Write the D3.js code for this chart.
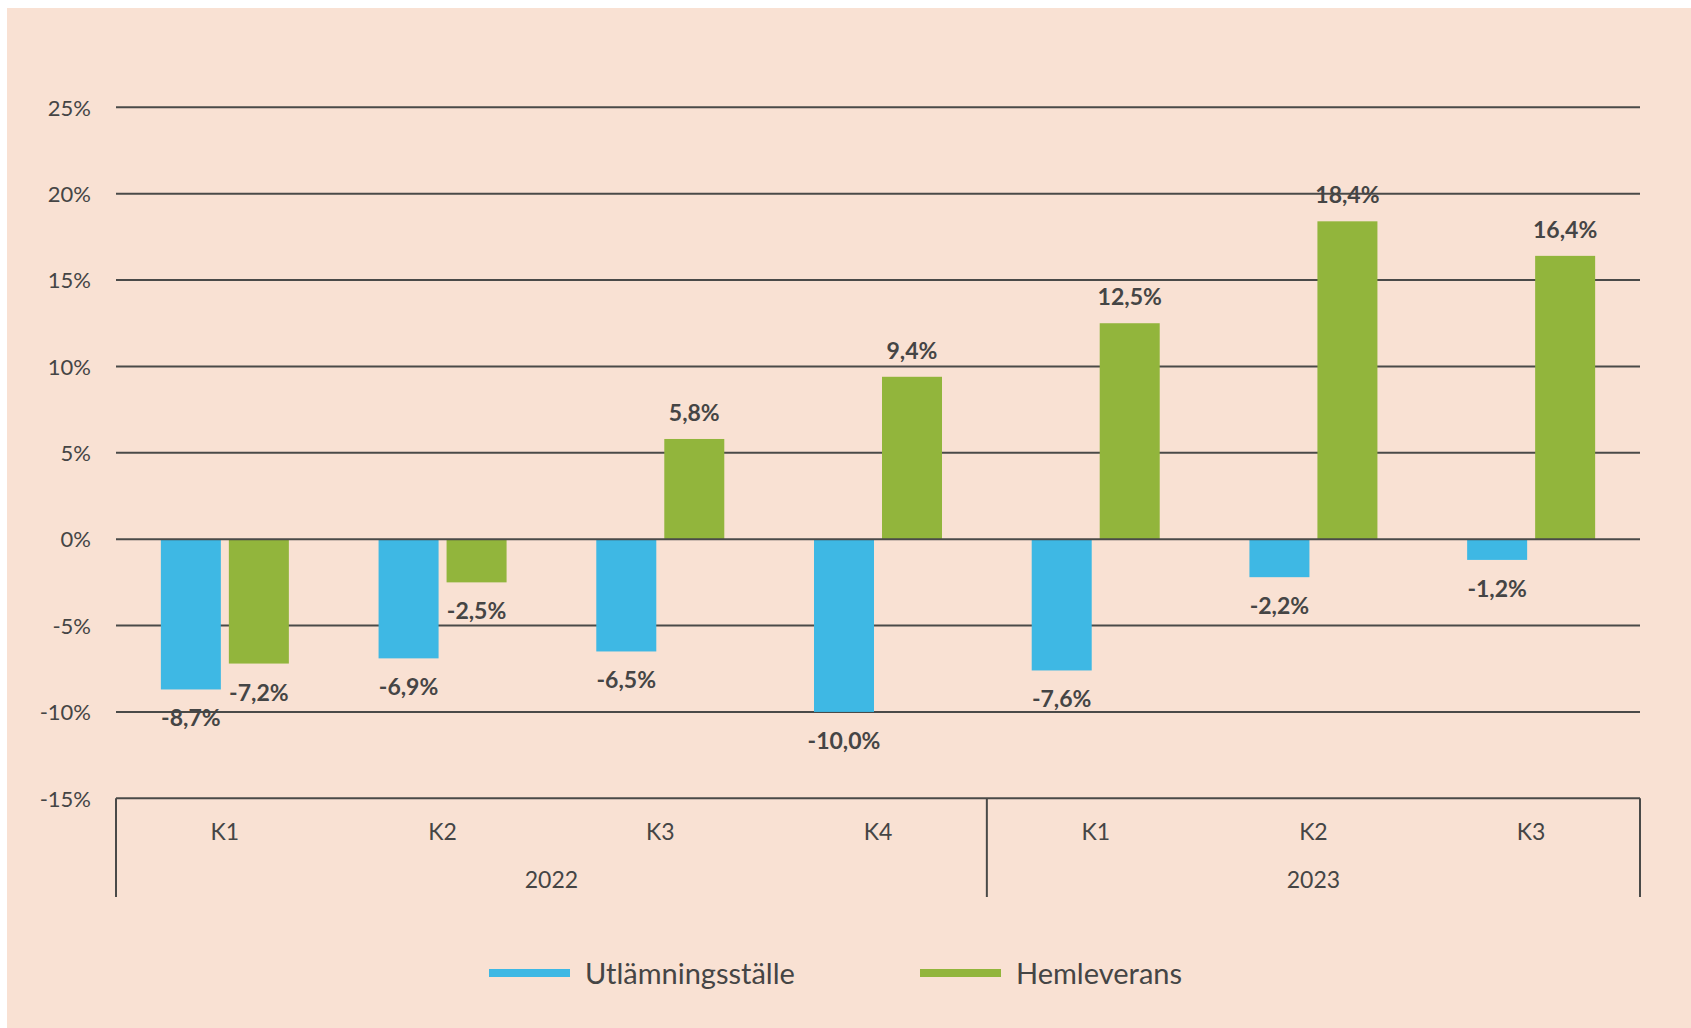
<!DOCTYPE html>
<html>
<head>
<meta charset="utf-8">
<script src="https://cdn.jsdelivr.net/npm/d3@7"></script>
<style>
  html, body { margin: 0; padding: 0; background: #ffffff; }
  svg { display: block; }
  text { font-family: Lato, "Open Sans", sans-serif; fill: #454545; }
</style>
</head>
<body>
<svg id="chart" width="1691" height="1028"></svg>
<script>
// ---- data ----
const quarters = ["K1", "K2", "K3", "K4", "K1", "K2", "K3"];
const years = ["2022", "2023"];
const yearOfQuarter = [0, 0, 0, 0, 1, 1, 1];
const seriesNames = ["Utlämningsställe", "Hemleverans"];
const utlamning = [-8.7, -6.9, -6.5, -10.0, -7.6, -2.2, -1.2];
const hemleverans = [-7.2, -2.5, 5.8, 9.4, 12.5, 18.4, 16.4];
const yTicks = [-15, -10, -5, 0, 5, 10, 15, 20, 25];
const colors = ["#3EB8E4", "#92B53C"];

// ---- setup ----
const svg = d3.select("#chart");
const W = 1691, H = 1028;
const mLeft = 116, mRight = 1640, mTop = 107.3, mBottom = 798.3;

svg.append("rect").attr("x", 7).attr("y", 8).attr("width", W - 7).attr("height", H - 8).attr("fill", "#F9E1D3");

const idx = quarters.map((d, i) => i);
const x0 = d3.scaleBand().domain(idx).range([mLeft, mRight]).padding(0);
const x1 = d3.scaleBand().domain([0, 1]).range([0, 128]).paddingInner(8 / 68).paddingOuter(0);
const off = (x0.bandwidth() - 128) / 2;
const y = d3.scaleLinear().domain([-15, 25]).range([mBottom, mTop]);

const fmt = v => (v < 0 ? "-" : "") + d3.format(".1f")(Math.abs(v)).replace(".", ",") + "%";

// gridlines
svg.append("g").selectAll("line").data(yTicks.filter(t => t !== -15 && t !== 0)).join("line")
  .attr("x1", mLeft).attr("x2", mRight)
  .attr("y1", d => y(d)).attr("y2", d => y(d))
  .attr("stroke", "#4a4a48").attr("stroke-width", 2);

// y tick labels via axis
const yAxis = svg.append("g").attr("transform", `translate(${mLeft - 25},0)`)
  .call(d3.axisLeft(y).tickValues(yTicks).tickSize(0).tickPadding(0).tickFormat(d => d + "%"));
yAxis.select(".domain").remove();
yAxis.selectAll("text").attr("font-size", 22).attr("font-family", "Lato, sans-serif").attr("fill", "#454545").attr("dy", "0.35em");

// bars
const series = [utlamning, hemleverans];
const bars = svg.append("g");
series.forEach((vals, s) => {
  bars.selectAll(null).data(vals.map((v, i) => ({ v, i }))).join("rect")
    .attr("x", d => x0(d.i) + off + x1(s))
    .attr("width", x1.bandwidth())
    .attr("y", d => y(Math.max(0, d.v)))
    .attr("height", d => Math.abs(y(d.v) - y(0)))
    .attr("fill", colors[s]);
});

// zero line on top
svg.append("line").attr("x1", mLeft).attr("x2", mRight).attr("y1", y(0)).attr("y2", y(0))
  .attr("stroke", "#4a4a48").attr("stroke-width", 2);

// value labels
const labels = svg.append("g");
series.forEach((vals, s) => {
  labels.selectAll(null).data(vals.map((v, i) => ({ v, i }))).join("text")
    .attr("x", d => x0(d.i) + off + x1(s) + x1.bandwidth() / 2)
    .attr("y", d => d.v >= 0 ? y(d.v) - 18 : y(d.v) + 37)
    .attr("text-anchor", "middle")
    .attr("font-size", 23).attr("font-weight", 700)
    .text(d => fmt(d.v));
});

// category axis
const axisG = svg.append("g");
axisG.append("line").attr("x1", mLeft).attr("x2", mRight).attr("y1", mBottom).attr("y2", mBottom)
  .attr("stroke", "#4a4a48").attr("stroke-width", 2);
const yearBounds = years.map((yr, k) => {
  const qs = idx.filter(i => yearOfQuarter[i] === k);
  return [x0(qs[0]), x0(qs[qs.length - 1]) + x0.bandwidth()];
});
const dividers = [mLeft, ...yearBounds.map(b => b[1])];
axisG.selectAll("line.div").data(dividers).join("line").attr("class", "div")
  .attr("x1", d => d).attr("x2", d => d).attr("y1", mBottom).attr("y2", 897)
  .attr("stroke", "#4a4a48").attr("stroke-width", 2);

axisG.selectAll("text.q").data(idx).join("text").attr("class", "q")
  .attr("x", i => x0(i) + x0.bandwidth() / 2).attr("y", 832).attr("dy", "0.35em")
  .attr("text-anchor", "middle").attr("font-size", 23)
  .text(i => quarters[i]);
axisG.selectAll("text.yr").data(years).join("text").attr("class", "yr")
  .attr("x", (d, k) => (yearBounds[k][0] + yearBounds[k][1]) / 2).attr("y", 880).attr("dy", "0.35em")
  .attr("text-anchor", "middle").attr("font-size", 23)
  .text(d => d);

// legend
const legendX = [489, 920];
const leg = svg.append("g");
seriesNames.forEach((name, s) => {
  leg.append("rect").attr("x", legendX[s]).attr("y", 969).attr("width", 81).attr("height", 8).attr("fill", colors[s]);
  leg.append("text").attr("x", legendX[s] + 96).attr("y", 984).attr("font-size", 29).text(name);
});
</script>
</body>
</html>
